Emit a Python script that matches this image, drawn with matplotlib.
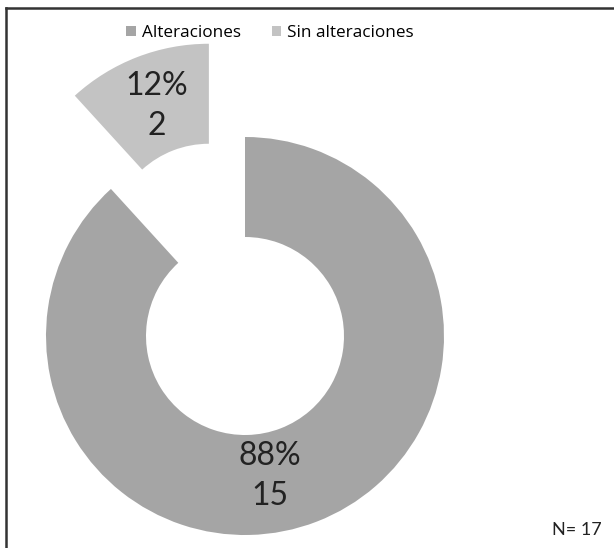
import matplotlib.pyplot as plt
from matplotlib.patches import Patch
from matplotlib.lines import Line2D

categorias = ['Alteraciones', 'Sin alteraciones']
valores = [15, 2]
porcentajes = ['88%', '12%']
colores = ['#a5a5a5', '#c3c3c3']
total = 'N= 17'

plt.rcParams['font.family'] = ['Lato', 'DejaVu Sans']

fig = plt.figure(figsize=(6.14, 5.48), dpi=100)
ax = fig.add_axes([0, 0, 1, 1])

# dona en coordenadas de pixel (y hacia arriba)
ax.pie(valores, colors=colores, startangle=90, counterclock=False,
       center=(245, 212), radius=199, explode=[0, 100],
       wedgeprops=dict(width=100, edgecolor='none'))
ax.set_xlim(0, 614)
ax.set_ylim(0, 548)
ax.set_aspect('equal')
ax.axis('off')

# etiquetas de datos
ax.text(270, 72, porcentajes[0] + '\n' + str(valores[0]), ha='center', va='center',
        fontsize=23, linespacing=1.45, color='#222222')
ax.text(157, 442, porcentajes[1] + '\n' + str(valores[1]), ha='center', va='center',
        fontsize=23, linespacing=1.45, color='#222222')

ax.text(577, 18, total, ha='center', va='center', fontsize=13, color='#222222')

# leyenda
handles = [Patch(facecolor=c, edgecolor='none') for c in colores]
fig.legend(handles, categorias, loc='center', bbox_to_anchor=(270 / 614, 1 - 33 / 548),
           ncol=2, frameon=False, handlelength=0.55, handleheight=0.55,
           handletextpad=0.35, columnspacing=1.8,
           prop=dict(family=['Open Sans', 'DejaVu Sans'], size=12.3))

# marco (solo arriba e izquierda visibles)
fig.add_artist(Line2D([6 / 614, 1], [1 - 8 / 548, 1 - 8 / 548], color='#333333', lw=1.8,
                      transform=fig.transFigure))
fig.add_artist(Line2D([6 / 614, 6 / 614], [0, 1 - 8 / 548], color='#333333', lw=1.8,
                      transform=fig.transFigure))

fig.savefig('out.png', dpi=100, facecolor='white')
